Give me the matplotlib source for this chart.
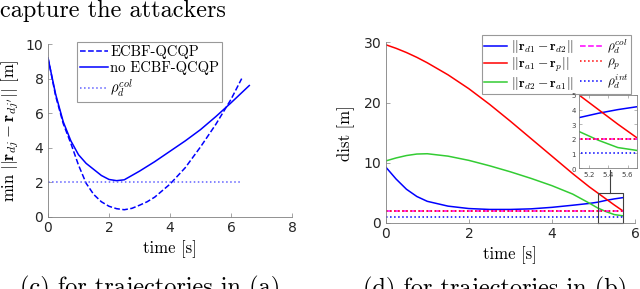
import matplotlib
matplotlib.use("Agg")
import matplotlib.pyplot as plt

plt.rcParams['mathtext.fontset'] = 'cm'
plt.rcParams['font.family'] = 'serif'
plt.rcParams['font.serif'] = ['cmr10', 'DejaVu Serif']
plt.rcParams['axes.formatter.use_mathtext'] = True

# left panel: min distance between defenders
t_qp = [0, 0.25, 0.5, 0.75, 1.0, 1.25, 1.5, 1.75, 2.0, 2.25, 2.5, 2.75, 3.0,
        3.25, 3.5, 4.0, 4.5, 5.0, 5.5, 6.0, 6.35]
d_qp = [9.2, 7.0, 5.4, 4.25, 3.0, 1.95, 1.3, 0.88, 0.62, 0.48, 0.42, 0.5, 0.68,
        0.88, 1.15, 1.9, 2.85, 4.05, 5.35, 6.8, 8.0]
t_noqp = [0, 0.25, 0.5, 0.75, 1.0, 1.25, 1.5, 1.75, 2.0, 2.25, 2.5, 3.0, 3.5,
          4.0, 4.5, 5.0, 5.5, 6.0, 6.6]
d_noqp = [9.2, 7.1, 5.5, 4.4, 3.6, 3.1, 2.75, 2.4, 2.17, 2.1, 2.15, 2.65, 3.2,
          3.8, 4.4, 5.05, 5.8, 6.6, 7.6]
rho_col_left = 2.0
t_rho_left = [0, 6.3]

# right panel: distances
t_r = [0, 0.25, 0.5, 0.75, 1.0, 1.5, 2.0, 2.5, 3.0, 3.5, 4.0, 4.5, 4.9, 5.1,
       5.3, 5.5, 5.7]
d_d1d2 = [9.3, 7.3, 5.6, 4.4, 3.6, 2.8, 2.4, 2.25, 2.25, 2.35, 2.6, 2.95, 3.25,
          3.45, 3.75, 4.0, 4.2]
d_a1p = [29.6, 29.0, 28.3, 27.5, 26.6, 24.6, 22.3, 19.7, 16.9, 14.0, 11.1, 8.2,
         6.0, 5.0, 4.0, 3.0, 2.05]
d_d2a1 = [10.3, 10.8, 11.2, 11.45, 11.5, 11.1, 10.4, 9.5, 8.5, 7.4, 6.2, 4.8,
          3.3, 2.5, 1.9, 1.4, 1.2]
rho_col = 2.0
rho_p = 2.0
rho_int = 1.0
t_rho = [0, 5.7]

W, H = 640, 289
fig = plt.figure(figsize=(W / 100, H / 100), dpi=100)


def style(ax):
    for s in ['top', 'right']:
        ax.spines[s].set_visible(False)
    for s in ['left', 'bottom']:
        ax.spines[s].set_color('#808080')
        ax.spines[s].set_linewidth(0.6)
    ax.tick_params(direction='in', length=3, width=0.5, color='#808080',
                   labelcolor='#262626', pad=3)
    for lab in ax.get_xticklabels() + ax.get_yticklabels():
        lab.set_fontfamily('DejaVu Sans')
        lab.set_fontsize(10)


# ---- left ----
ax1 = fig.add_axes([48 / W, 1 - 217 / H, 244 / W, 173 / H])
ax1.plot(t_qp, d_qp, '--', color='blue', lw=1.1, label='ECBF-QCQP')
ax1.plot(t_noqp, d_noqp, '-', color='blue', lw=1.1, label='no ECBF-QCQP')
ax1.plot(t_rho_left, [rho_col_left] * 2, ':', color='#6060ff', lw=1.1,
         label=r'$\rho_d^{col}$')
ax1.set_xlim(0, 8)
ax1.set_ylim(0, 10)
ax1.set_xticks([0, 2, 4, 6, 8])
ax1.set_yticks([0, 2, 4, 6, 8, 10])
style(ax1)
ax1.set_xlabel('time [s]', fontsize=12, labelpad=4)
ax1.set_ylabel(r"$\min\ ||\mathbf{r}_{dj}-\mathbf{r}_{dj'}||$ [m]", fontsize=12,
               labelpad=3)
leg1 = ax1.legend(loc='upper left', bbox_to_anchor=(0.12, 1.01), fontsize=10.5,
                  frameon=True, fancybox=False, edgecolor='#808080',
                  borderpad=0.2, labelspacing=0.15, handlelength=1.9,
                  handletextpad=0.15, borderaxespad=0)
leg1.get_frame().set_linewidth(0.8)

# ---- right ----
ax2 = fig.add_axes([385.7 / W, 1 - 223 / H, 249.3 / W, 180.7 / H])
green = '#33cc33'
l1, = ax2.plot(t_r, d_d1d2, color='blue', lw=1.1)
l2, = ax2.plot(t_r, d_a1p, color='red', lw=1.1)
l3, = ax2.plot(t_r, d_d2a1, color=green, lw=1.1)
l4, = ax2.plot(t_rho, [rho_col] * 2, '--', color='magenta', lw=1.1)
l5, = ax2.plot(t_rho, [rho_p] * 2, ':', color='red', lw=1.1)
l6, = ax2.plot(t_rho, [rho_int] * 2, ':', color='blue', lw=1.1)
ax2.set_xlim(0, 6)
ax2.set_ylim(0, 30)
ax2.set_xticks([0, 2, 4, 6])
ax2.set_yticks([0, 10, 20, 30])
style(ax2)
ax2.set_xlabel('time [s]', fontsize=12, labelpad=4)
ax2.set_ylabel('dist [m]', fontsize=12, labelpad=6)
leg2 = ax2.legend([l1, l2, l3, l4, l5, l6],
                  [r'$||\mathbf{r}_{d1}-\mathbf{r}_{d2}||$',
                   r'$||\mathbf{r}_{a1}-\mathbf{r}_{p}||$',
                   r'$||\mathbf{r}_{d2}-\mathbf{r}_{a1}||$',
                   r'$\rho_d^{col}$', r'$\rho_p$', r'$\rho_d^{int}$'],
                  ncol=2, loc='upper left', bbox_to_anchor=(0.385, 1.04),
                  fontsize=9.5, frameon=True, fancybox=False,
                  edgecolor='#808080', borderpad=0.15, labelspacing=0.05,
                  handlelength=1.8, handletextpad=0.3, columnspacing=0.4,
                  borderaxespad=0)
leg2.get_frame().set_linewidth(0.8)

# zoom box
ax2.plot([5.1, 5.7, 5.7, 5.1, 5.1], [0, 0, 5, 5, 0], color='#404040', lw=0.8,
         clip_on=False)
ax2.plot([5.4, 5.4], [5, 8.8], color='#404040', lw=0.8, clip_on=False)

# inset
ax3 = fig.add_axes([579 / W, 1 - 168 / H, 58.3 / W, 73 / H])
ax3.plot(t_r, d_d1d2, color='blue', lw=1.1)
ax3.plot(t_r, d_a1p, color='red', lw=1.1)
ax3.plot(t_r, d_d2a1, color=green, lw=1.1)
ax3.plot(t_rho, [rho_col] * 2, '--', color='magenta', lw=1.1)
ax3.plot(t_rho, [rho_p] * 2, ':', color='red', lw=1.1)
ax3.plot(t_rho, [rho_int] * 2, ':', color='blue', lw=1.1)
ax3.set_xlim(5.1, 5.7)
ax3.set_ylim(0, 5)
ax3.set_xticks([5.2, 5.4, 5.6])
ax3.set_yticks([0, 1, 2, 3, 4, 5])
for s in ax3.spines.values():
    s.set_color('#808080')
    s.set_linewidth(0.6)
ax3.tick_params(direction='in', length=2, width=0.4, color='#808080',
                labelcolor='#404040', pad=1.5, top=True, right=True)
for lab in ax3.get_xticklabels() + ax3.get_yticklabels():
    lab.set_fontfamily('DejaVu Sans')
    lab.set_fontsize(5)

# surrounding page text
fig.text(0, 1 - 0 / H, 'capture the attackers', fontsize=17.5, va='top',
         ha='left')
fig.text(20 / W, 1 - 276 / H, '(c) for trajectories in (a)', fontsize=17.5,
         va='top', ha='left')
fig.text(363 / W, 1 - 277 / H, '(d) for trajectories in (b)', fontsize=17.5,
         va='top', ha='left')

fig.savefig('out.png', dpi=100)
